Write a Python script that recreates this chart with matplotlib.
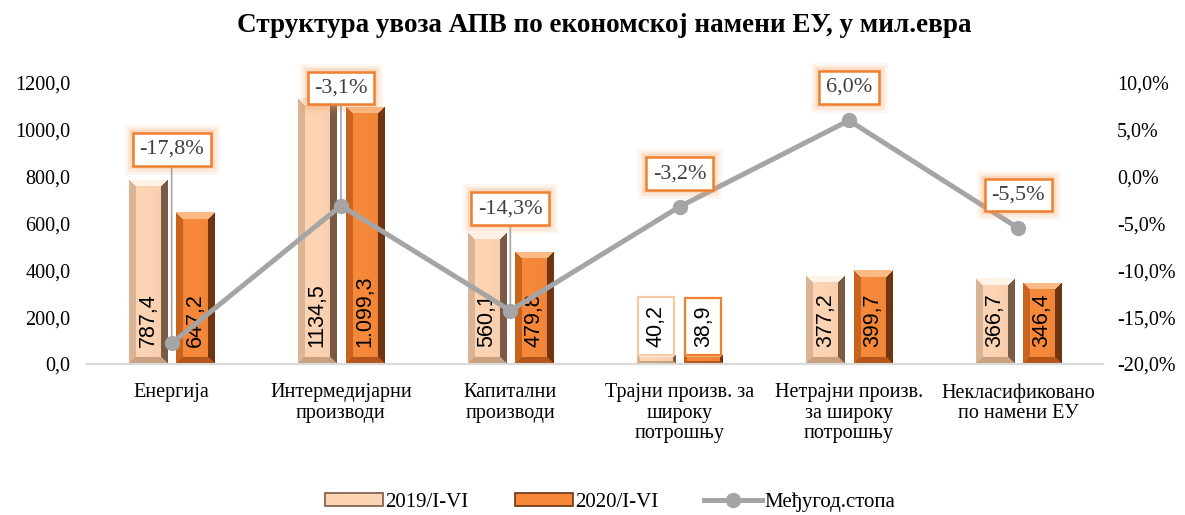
import numpy as np
import matplotlib
matplotlib.use("Agg")
import matplotlib.pyplot as plt
from matplotlib.patches import Patch
from matplotlib.lines import Line2D
from matplotlib.ticker import FuncFormatter

categories = ["Енергија", "Интермедијарни\nпроизводи", "Капитални\nпроизводи",
              "Трајни произв. за\nшироку\nпотрошњу", "Нетрајни произв.\nза широку\nпотрошњу",
              "Некласификовано\nпо намени ЕУ"]
values_2019 = [787.4, 1134.5, 560.1, 40.2, 377.2, 366.7]
values_2020 = [647.2, 1099.3, 479.8, 38.9, 399.7, 346.4]
labels_2019 = ["787,4", "1134,5", "560,1", "40,2", "377,2", "366,7"]
labels_2020 = ["647,2", "1.099,3", "479,8", "38,9", "399,7", "346,4"]
growth = [-17.8, -3.1, -14.3, -3.2, 6.0, -5.5]
growth_labels = ["-17,8%", "-3,1%", "-14,3%", "-3,2%", "6,0%", "-5,5%"]
series_names = ["2019/I-VI", "2020/I-VI", "Међугод.стопа"]

# label offsets (pixels above the point) for the growth boxes
pct_dy = [194, 118, 102, 33, 33, 33]

SERIF = "Liberation Serif"
SANS = "Liberation Sans"

pal_2019 = dict(base="#FCD3B3", top="#FFF3E6", left="#D9B496", right="#7A5A45", bottom="#C9A080")
pal_2020 = dict(base="#F5883A", top="#FAB985", left="#C9641E", right="#6E3510", bottom="#B4561A")

fig = plt.figure(figsize=(11.85, 5.15), dpi=100)
ax = fig.add_axes([0.0734, 0.2932, 0.8574, 0.5456])
ax2 = ax.twinx()

x = np.arange(len(categories))
bw = 0.225
off = 0.14

ax.set_xlim(-0.5, len(categories) - 0.5)
ax.set_ylim(0, 1200)
ax2.set_ylim(-20, 10)


def hex_rgb(h):
    return np.array(matplotlib.colors.to_rgb(h))


def bevel_img(wpx, hpx, pal, b=6):
    wpx = max(int(round(wpx)), 2)
    hpx = max(int(round(hpx)), 2)
    rr, cc = np.mgrid[0:hpx, 0:wpx]
    d = np.stack([rr, hpx - 1 - rr, cc, wpx - 1 - cc])  # top, bottom, left, right
    face = np.argmin(d, axis=0)
    dmin = d.min(axis=0)
    img = np.zeros((hpx, wpx, 3))
    t = cc / max(wpx - 1, 1)
    shade = 1.0 - 0.06 * np.clip(t - 0.5, 0, 1)
    img[:] = hex_rgb(pal["base"])
    img *= shade[..., None]
    cols = [hex_rgb(pal["top"]), hex_rgb(pal["bottom"]), hex_rgb(pal["left"]), hex_rgb(pal["right"])]
    bb = min(b, hpx // 2, wpx // 2)
    for k in range(4):
        m = (face == k) & (dmin < bb)
        img[m] = cols[k]
    return img


def draw_bars(xs, vals, pal):
    bars = ax.bar(xs, vals, bw, color=pal["base"], edgecolor="none", zorder=2)
    fig.canvas.draw()
    for rect in bars:
        x0, y0 = rect.get_x(), rect.get_y()
        w, h = rect.get_width(), rect.get_height()
        p0 = ax.transData.transform((x0, y0))
        p1 = ax.transData.transform((x0 + w, y0 + h))
        img = bevel_img(p1[0] - p0[0], p1[1] - p0[1], pal, b=7 if h > 60 else 3)
        im = ax.imshow(img, extent=(x0, x0 + w, y0, y0 + h), aspect="auto",
                       interpolation="nearest", zorder=3)
        im.set_clip_path(rect)
    return bars


draw_bars(x - off, values_2019, pal_2019)
draw_bars(x + off, values_2020, pal_2020)
ax.set_xlim(-0.5, len(categories) - 0.5)
ax.set_ylim(0, 1200)

# value labels inside bars
for xs, vals, labs, edge in [(x - off, values_2019, labels_2019, "#F9C9A5"),
                             (x + off, values_2020, labels_2020, "#F0802E")]:
    for xi, v, lab in zip(xs, vals, labs):
        kw = {}
        if v < 100:
            kw["bbox"] = dict(boxstyle="square,pad=0.35", fc="white", ec=edge, lw=1.6)
        ax.annotate(lab, xy=(xi, 0), xytext=(0, 17), textcoords="offset pixels",
                    rotation=90, ha="center", va="bottom", fontsize=15.5,
                    family=SANS, color="black", zorder=5, **kw)

# growth line
ax2.plot(x, growth, color="#A5A5A5", lw=3.6, marker="o", ms=10, zorder=4)
ax2.set_zorder(ax.get_zorder() + 1)
ax2.patch.set_visible(False)

for xi, g, lab, dy in zip(x, growth, growth_labels, pct_dy):
    arrow = dict(arrowstyle="-", color="#A5A5A5", lw=1.2, shrinkA=0, shrinkB=0) if dy > 60 else None
    # soft glow around the box
    for glw, ga in [(12, 0.10), (8, 0.14), (4.5, 0.2)]:
        ax2.annotate(lab, xy=(xi, g), xytext=(0, dy), textcoords="offset pixels",
                     ha="center", va="center", fontsize=16, family=SERIF, color="none",
                     bbox=dict(boxstyle="square,pad=0.3", fc="none", ec="#F8A060", lw=glw, alpha=ga),
                     zorder=6)
    ax2.annotate(lab, xy=(xi, g), xytext=(0, dy), textcoords="offset pixels",
                 ha="center", va="center", fontsize=16, family=SERIF, color="#404040",
                 bbox=dict(boxstyle="square,pad=0.3", fc="white", ec="#F07E2E", lw=1.8),
                 arrowprops=arrow, zorder=7)

# axes styling
ax.yaxis.set_major_locator(matplotlib.ticker.MultipleLocator(200))
ax.yaxis.set_major_formatter(FuncFormatter(lambda v, p: f"{v:.1f}".replace(".", ",")))
ax2.yaxis.set_major_locator(matplotlib.ticker.MultipleLocator(5))
ax2.yaxis.set_major_formatter(FuncFormatter(lambda v, p: f"{v:.1f}%".replace(".", ",")))
ax.set_xticks(x)
ax.set_xticklabels(categories, family=SERIF, fontsize=14.5, linespacing=1.1)
for a in (ax, ax2):
    for s in ("top", "left", "right"):
        a.spines[s].set_visible(False)
    a.spines["bottom"].set_color("#D9D9D9")
    a.spines["bottom"].set_linewidth(1.5)
    a.tick_params(length=0, labelsize=14.5)
    for t in a.get_yticklabels():
        t.set_family(SERIF)
ax.tick_params(axis="y", pad=12)
ax.tick_params(axis="x", pad=14)
ax2.tick_params(axis="y", pad=10)

fig.suptitle("Структура увоза АПВ по економској намени ЕУ, у мил.евра",
             x=0.51, y=0.975, fontsize=19.5, fontweight="bold", family=SERIF)

handles = [Patch(fc=pal_2019["base"], ec=pal_2019["right"], lw=1.2),
           Patch(fc=pal_2020["base"], ec=pal_2020["right"], lw=1.2),
           Line2D([], [], color="#A5A5A5", lw=3.6, marker="o", ms=10)]
fig.legend(handles, series_names, loc="lower center", bbox_to_anchor=(0.515, -0.03),
           ncol=3, frameon=False, prop=dict(family=SERIF, size=15),
           handlelength=2.8, handleheight=0.6, columnspacing=2.2, handletextpad=0.1)

fig.savefig("out.png", dpi=100)
